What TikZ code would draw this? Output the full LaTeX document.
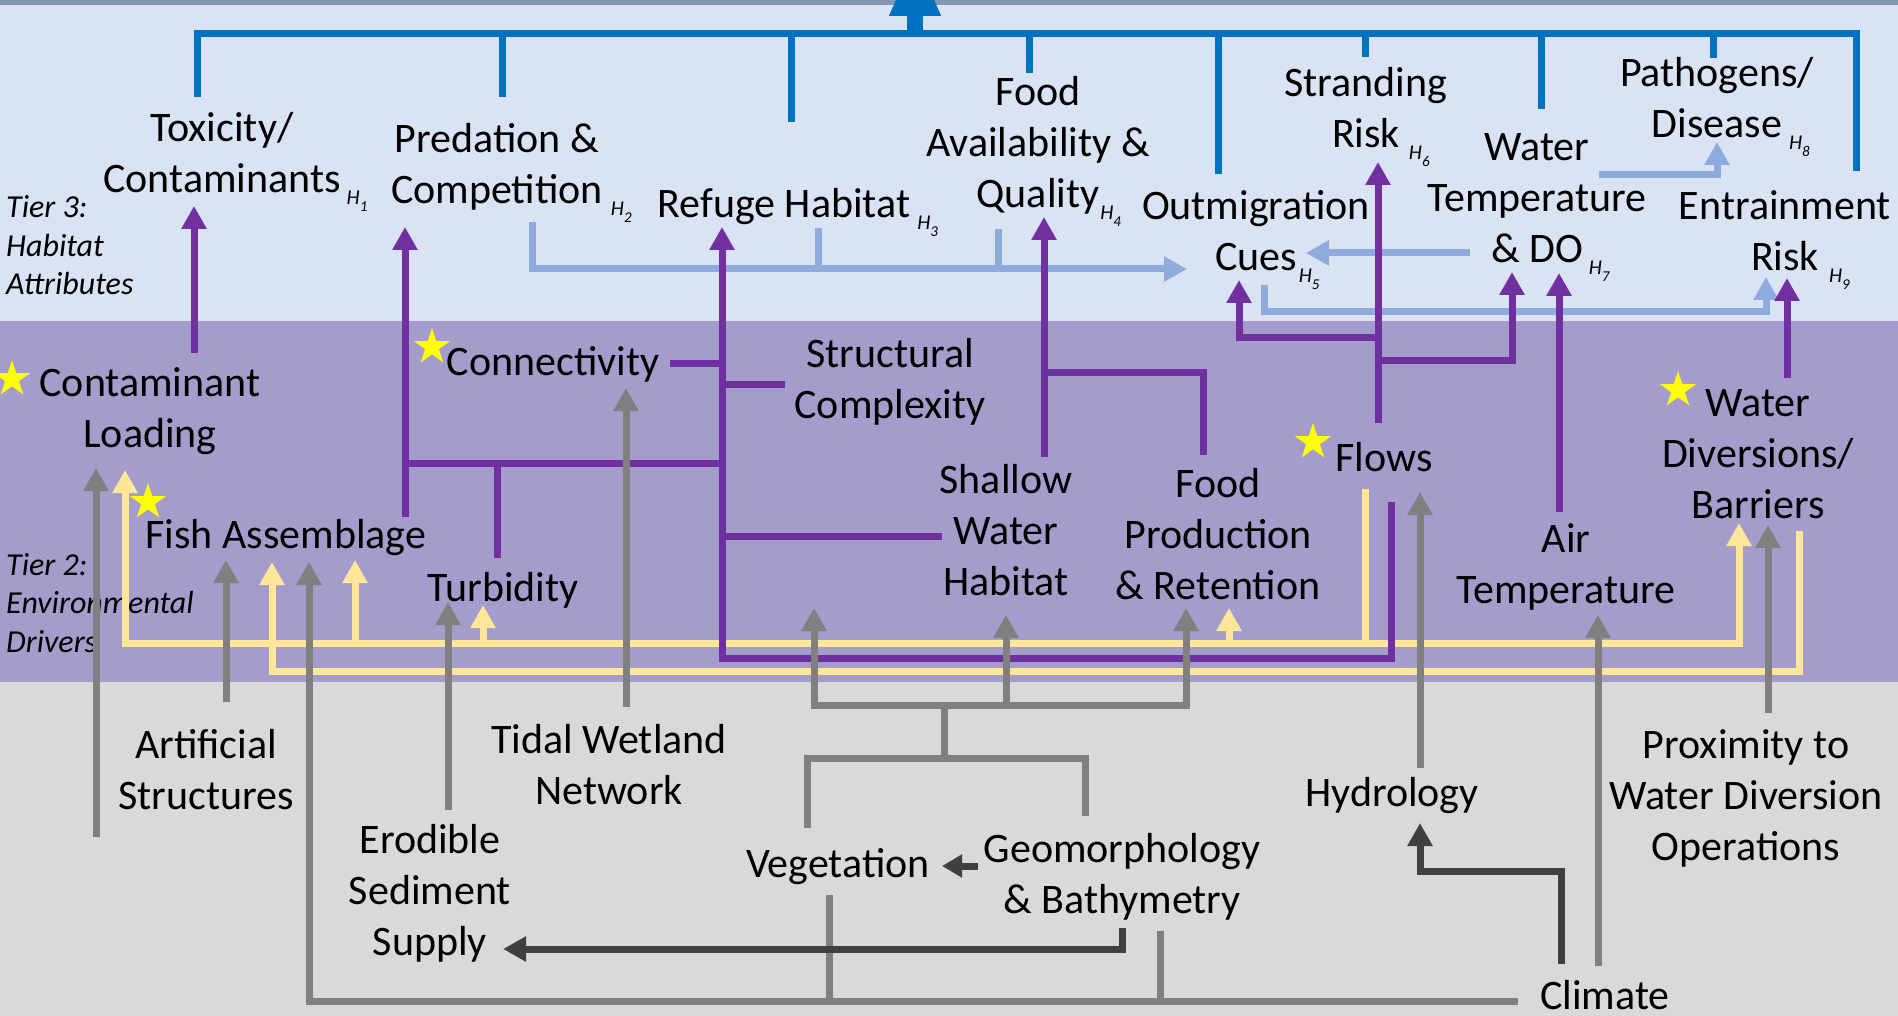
\documentclass[tikz,border=0pt]{standalone}
\usepackage{fontspec}
\setmainfont{Carlito}
\usetikzlibrary{arrows.meta,shapes.geometric}

\definecolor{busblue}{HTML}{0070C0}
\definecolor{lineblue}{HTML}{8FAADC}
\definecolor{purp}{HTML}{7030A0}
\definecolor{ylw}{HTML}{FFE699}
\definecolor{gry}{HTML}{808080}
\definecolor{dgry}{HTML}{404040}
\definecolor{starylw}{HTML}{FFFF00}
\definecolor{topstrip}{HTML}{8497B0}
\definecolor{bandtop}{HTML}{DAE3F3}
\definecolor{bandmid}{HTML}{A49DCB}
\definecolor{bandlow}{HTML}{D9D9D9}

% multi-line labels, baseline on the first line
\newcommand\mlc[1]{\begin{tabular}[t]{@{}c@{}}#1\end{tabular}}
\newcommand\mlt[1]{\begin{tabular}[t]{@{}l@{}}#1\end{tabular}}
% hypothesis tag H_n set after a label, not counted in its centring
\newcommand\hsub[2][6]{\rlap{\hspace{#1pt}\raisebox{-12pt}{\fontsize{21}{21}\selectfont\itshape H\raisebox{-7pt}{\fontsize{15}{15}\selectfont #2}}}}

\begin{document}
\begin{tikzpicture}[x=1pt,y=-1pt,
  lbl/.style={anchor=base,inner sep=0pt,font=\fontsize{42}{51}\selectfont},
  tier/.style={anchor=base west,inner sep=0pt,font=\fontsize{32}{38.5}\selectfont\itshape},
  wire/.style={line width=7pt},
  arr/.style={-{Triangle[width=24pt,length=23pt]}},
  busw/.style={wire,draw=busblue},
  bluew/.style={wire,draw=lineblue},
  purw/.style={wire,draw=purp},
  yelw/.style={wire,draw=ylw},
  gryw/.style={wire,draw=gry},
  dgryw/.style={wire,draw=dgry},
  fav/.style={star,star points=5,star point ratio=2.6,fill=starylw,draw=none,minimum size=38pt,inner sep=0pt}
]
\useasboundingbox (0,0) rectangle (1898,1016);

% ---------- bands ----------
\fill[bandtop] (0,0) rectangle (1898,321);
\fill[topstrip] (0,0) rectangle (1898,5);
\fill[bandmid] (0,321) rectangle (1898,682);
\fill[bandlow] (0,682) rectangle (1898,1016);

% ---------- Tier 3: habitat attributes ----------
\node[lbl] (tox) at (222,142) {\mlc{Toxicity/\\Contaminants\hsub[6]{1}}};
\node[lbl] (pred) at (497,153) {\mlc{Predation \&\\Competition\hsub[8]{2}}};
\node[lbl] (refuge) at (784,218) {\mlc{Refuge Habitat\hsub[7]{3}}};
\node[lbl] (foodq) at (1038,106) {\mlc{Food\\Availability \&\\Quality\hsub[1]{4}}};
\node[lbl] (outm) at (1256,220) {\mlc{Outmigration\\Cues\hsub[2]{5}}};
\node[lbl] (strand) at (1366,97) {\mlc{Stranding\\Risk\hsub[9]{6}}};
\node[lbl] (wtemp) at (1537,161) {\mlc{Water\\Temperature\\\& DO\hsub[6]{7}}};
\node[lbl] (path) at (1717,87) {\mlc{Pathogens/\\Disease\hsub[7]{8}}};
\node[lbl] (entr) at (1785,220) {\mlc{Entrainment\\Risk\hsub[10]{9}}};
\node[tier] (tier3) at (6,218) {\mlt{Tier 3:\\Habitat\\Attributes}};

% ---------- Tier 2: environmental drivers ----------
\node[lbl] (contl) at (150,396) {\mlc{Contaminant\\Loading}};
\node[lbl] (fish) at (286,548) {Fish Assemblage};
\node[lbl] (conn) at (553,375) {Connectivity};
\node[lbl] (struct) at (890,367) {\mlc{Structural\\Complexity}};
\node[lbl] (turb) at (503,601) {Turbidity};
\node[lbl] (shallow) at (1006,493) {\mlc{Shallow\\Water\\Habitat}};
\node[lbl] (foodp) at (1218,497) {\mlc{Food\\Production\\\& Retention}};
\node[lbl] (flows) at (1384,471) {Flows};
\node[lbl] (airt) at (1566,552) {\mlc{Air\\Temperature}};
\node[lbl] (wdiv) at (1758,416) {\mlc{Water\\Diversions/\\Barriers}};
\node[tier] (tier2) at (6,575) {\mlt{Tier 2:\\Environmental\\Drivers}};

% ---------- Tier 1: landscape ----------
\node[lbl] (artif) at (206,758) {\mlc{Artificial\\Structures}};
\node[lbl] (erod) at (430,853) {\mlc{Erodible\\Sediment\\Supply}};
\node[lbl] (tidal) at (609,753) {\mlc{Tidal Wetland\\Network}};
\node[lbl] (veg) at (838,877) {Vegetation};
\node[lbl] (geo) at (1122,862) {\mlc{Geomorphology\\\& Bathymetry}};
\node[lbl] (hydro) at (1392,806) {Hydrology};
\node[lbl] (prox) at (1746,758) {\mlc{Proximity to\\Water Diversion\\Operations}};
\node[lbl] (climate) at (1605,1009) {Climate};

% ---------- connector end points ----------
\foreach \n/\x/\y in {
  bus/915/34, goal/915/-46,
  b1/197/97, b2/502/97, b3/791/122, b4/1029/73, b5/1218/174,
  b6/1365/57, b7/1541/109, b8/1713/58, b9/1856/171,
  lbA/532/222, lbB/818/228, lbC/998/229, cuesL/1187/269,
  wtL/1470/253, cuesR/1306/253, wtR/1599/175, pathIn/1717/142,
  cuesB/1264/285, entrL/1766/277,
  flY/1365/489, yj/1365/643, clY/125/470, wdY/1739/523,
  fishY/355/560, turbY/483/605, fpY/1229/608,
  wdY2/1799/531, fishY2/272/562,
  clP/194/353, toxIn/194/206, fishP/405/517, predIn/405/227,
  turbP/497/558, pj/497/463, flP/1391/502, refIn/722/227,
  connP/670/363, strP/785/384, shP/942/536,
  shP2/1044/457, favIn/1044/217, fpP/1203/455, faj/1044/372,
  flP2/1378/423, strIn/1378/162, fj1/1378/337, cuesIn/1239/280,
  fj2/1378/360, doIn/1512/272, atP/1559/512, doIn2/1559/273,
  wdP/1787/378, entrIn/1787/278,
  g0/96/837, clG/96/468, artG/226/702, fishG1/226/560,
  climG/1518/1001, fishG2/309/562, vegG/829/895, geoG/1160/931,
  erodG/448/810, turbG/448/602, tidG/626/707, connG/626/388,
  vegT/807/828, geoT/1085/816, gj2/944/758, gj1/944/705,
  sG1/814/608, sG2/1006/615, sG3/1186/608,
  hyG/1420/768, flowsG/1420/492, atG/1598/966, atIn/1598/615,
  proxG/1768/713, wdIn/1768/525,
  climD/1561/964, hyIn/1420/823, geoD/978/866, vegIn/942/866,
  geoD2/1122/928, erodIn/503/949}
  \coordinate (\n) at (\x,\y);

% ---------- Tier 3 to the outcome ----------
\draw[busw] (b1) |- (b9 |- bus) -- (b9);
\foreach \n in {b2,b3,b4,b5,b6,b7,b8} \draw[busw] (\n) -- (\n |- bus);
\draw[busblue,line width=16pt,-{Triangle[width=47pt,length=62pt]}] (bus) -- (goal);

% ---------- links among Tier 3 attributes ----------
\draw[bluew,arr] (lbA) |- (cuesL);
\draw[bluew] (lbB) -- (lbB |- cuesL);
\draw[bluew] (lbC) -- (lbC |- cuesL);
\draw[bluew,arr] (wtL) -- (cuesR);
\draw[bluew,arr] (wtR) -| (pathIn);
\draw[bluew,arr] (cuesB) -- ++(0,27) -| (entrL);

% ---------- flow and diversion links ----------
\draw[yelw,arr] (flY) -- (yj) -| (clY);
\draw[yelw,arr] (yj) -| (wdY);
\draw[yelw,arr] (fishY |- yj) -- (fishY);
\draw[yelw,arr] (turbY |- yj) -- (turbY);
\draw[yelw,arr] (fpY |- yj) -- (fpY);
\draw[yelw,arr] (wdY2) -- ++(0,140) -| (fishY2);

% ---------- Tier 2 to Tier 3 ----------
\draw[purw,arr] (clP) -- (toxIn);
\draw[purw,arr] (fishP) -- (predIn);
\draw[purw] (turbP) -- (pj);
\draw[purw] (fishP |- pj) -- (refIn |- pj);
\draw[purw,arr] (flP) -- ++(0,156) -| (refIn);
\draw[purw] (connP) -- (refIn |- connP);
\draw[purw] (strP) -- (refIn |- strP);
\draw[purw] (shP) -- (refIn |- shP);
\draw[purw,arr] (shP2) -- (favIn);
\draw[purw] (fpP) |- (faj);
\draw[purw,arr] (flP2) -- (strIn);
\draw[purw,arr] (fj1) -| (cuesIn);
\draw[purw,arr] (fj2) -| (doIn);
\draw[purw,arr] (atP) -- (doIn2);
\draw[purw,arr] (wdP) -- (entrIn);

% ---------- Tier 1 to Tier 2 ----------
\draw[gryw,arr] (g0) -- (clG);
\draw[gryw,arr] (artG) -- (fishG1);
\draw[gryw,arr] (climG) -| (fishG2);
\draw[gryw] (vegG) -- (vegG |- climG);
\draw[gryw] (geoG) -- (geoG |- climG);
\draw[gryw,arr] (erodG) -- (turbG);
\draw[gryw,arr] (tidG) -- (connG);
\draw[gryw] (vegT) |- (geoT |- gj2) -- (geoT);
\draw[gryw] (gj2) -- (gj1);
\draw[gryw,arr] (gj1) -| (sG1);
\draw[gryw,arr] (gj1) -| (sG3);
\draw[gryw,arr] (sG2 |- gj1) -- (sG2);
\draw[gryw,arr] (hyG) -- (flowsG);
\draw[gryw,arr] (atG) -- (atIn);
\draw[gryw,arr] (proxG) -- (wdIn);

% ---------- links within Tier 1 ----------
\draw[dgryw,arr] (climD) -- ++(0,-93) -| (hyIn);
\draw[dgryw,-{Triangle[width=22pt,length=20pt]}] (geoD) -- (vegIn);
\draw[dgryw,arr] (geoD2) |- (erodIn);

% ---------- highlighted drivers ----------
\node[fav] (s1) at (12,379) {};
\node[fav] (s2) at (148,502) {};
\node[fav] (s3) at (432,347) {};
\node[fav] (s4) at (1313,442) {};
\node[fav] (s5) at (1678,390) {};
\end{tikzpicture}
\end{document}
